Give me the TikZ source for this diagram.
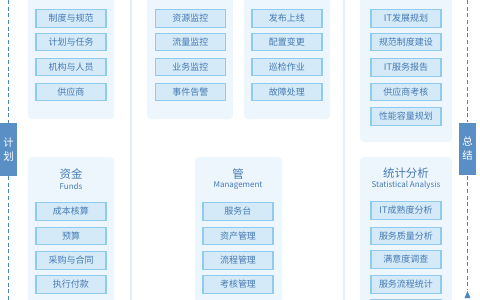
\documentclass[tikz,border=0pt]{standalone}
\usepackage{fontspec}
\setmainfont{Noto Sans CJK SC}
\definecolor{panelbg}{HTML}{EEF6FD}
\definecolor{itemfill}{HTML}{D4EAF8}
\definecolor{itemdraw}{HTML}{8FCBEF}
\definecolor{itemtext}{HTML}{4579B2}
\definecolor{barblue}{HTML}{5A8FC6}
\definecolor{dashblue}{HTML}{4C84C1}
\definecolor{sepblue}{HTML}{E2EFFB}
\begin{document}
\begin{tikzpicture}[x=0.75pt,y=-0.75pt,
  panel/.style={fill=panelbg, rounded corners=3pt, inner sep=0pt, minimum width=#1},
  item/.style={draw=itemdraw, fill=itemfill, line width=0.8pt, minimum width=52.5pt, minimum height=13pt, inner sep=0pt, text=itemtext, font=\fontsize{6.75}{8}\selectfont},
  bar/.style={fill=barblue, minimum width=12.75pt, minimum height=39.5pt, inner sep=0pt, text=white, align=center, font=\fontsize{7.8}{10.5}\selectfont},
  dashline/.style={draw=dashblue, line width=1.3pt, dash pattern=on 3pt off 2pt},
  titlezh/.style={text=itemtext, font=\fontsize{8.6}{10}\selectfont, inner sep=0pt},
  titleen/.style={text=itemtext, font=\fontsize{6}{7}\selectfont, inner sep=0pt},
  sep/.style={draw=sepblue, line width=1.2pt}]
\useasboundingbox (0,0) rectangle (480,300);
\clip (0,0) rectangle (480,300);
% separators
\coordinate (s1t) at (131,0); \coordinate (s1b) at (131,300);
\coordinate (s2t) at (344,0); \coordinate (s2b) at (344,300);
\draw[sep] (s1t) -- (s1b);
\draw[sep] (s2t) -- (s2b);
% panels
\node[panel=64.5pt, minimum height=96.75pt] (pA) at (71,54.5) {};
\node[panel=64.5pt, minimum height=96.75pt] (pB) at (190,54.5) {};
\node[panel=64.5pt, minimum height=96.75pt] (pC) at (287,54.5) {};
\node[panel=69pt, minimum height=114pt] (pD) at (406,66) {};
\node[panel=64.5pt, minimum height=114.75pt] (pE) at (71,233.5) {};
\node[panel=65.25pt, minimum height=114.75pt] (pF) at (238.5,233.5) {};
\node[panel=69pt, minimum height=114.75pt] (pG) at (406,233.5) {};
% panel A
\node[item] (a1) at (71,18.5) {制度与规范};
\node[item] (a2) at (71,42) {计划与任务};
\node[item] (a3) at (71,67) {机构与人员};
\node[item] (a4) at (71,92) {供应商};
% panel B
\node[item] (b1) at (190.5,18.5) {资源监控};
\node[item] (b2) at (190.5,42) {流量监控};
\node[item] (b3) at (190.5,67) {业务监控};
\node[item] (b4) at (190.5,92) {事件告警};
% panel C
\node[item] (c1) at (287,18.5) {发布上线};
\node[item] (c2) at (287,42) {配置变更};
\node[item] (c3) at (287,67) {巡检作业};
\node[item] (c4) at (287,92) {故障处理};
% panel D
\node[item] (d1) at (406,18.5) {IT发展规划};
\node[item] (d2) at (406,42) {规范制度建设};
\node[item] (d3) at (406,67.5) {IT服务报告};
\node[item] (d4) at (406,92) {供应商考核};
\node[item] (d5) at (406,116.5) {性能容量规划};
% panel E
\node[titlezh] (eT) at (71,174) {资金};
\node[titleen] (eS) at (71,186) {Funds};
\node[item] (e1) at (71,211.5) {成本核算};
\node[item] (e2) at (71,236) {预算};
\node[item] (e3) at (71,260.5) {采购与合同};
\node[item] (e4) at (71,284.5) {执行付款};
% panel F
\node[titlezh] (fT) at (238,174) {管};
\node[titleen] (fS) at (238,186) {Management};
\node[item] (f1) at (238,211.5) {服务台};
\node[item] (f2) at (238,236) {资产管理};
\node[item] (f3) at (238,260.5) {流程管理};
\node[item] (f4) at (238,284.5) {考核管理};
% panel G
\node[titlezh] (gT) at (406,173) {统计分析};
\node[titleen] (gS) at (406,185) {Statistical Analysis};
\node[item] (g1) at (406,210.5) {IT成熟度分析};
\node[item] (g2) at (406,236) {服务质量分析};
\node[item] (g3) at (406,259.5) {满意度调查};
\node[item] (g4) at (406,284.5) {服务流程统计};
\node[item] (g5) at (406,308) {};
% bars
\node[bar] (barL) at (8.5,149.5) {计\\划};
\node[bar] (barR) at (467.5,149) {总\\结};
\coordinate (lt) at (8.5,0);
\coordinate (lb) at (8.5,300);
\coordinate (rt) at (467.5,0);
\coordinate (rb) at (467.5,290);
\draw[dashline] (lt) -- (barL.north);
\draw[dashline] (barL.south) -- (lb);
\draw[dashline] (rt) -- (barR.north);
\draw[dashline] (barR.south) -- (rb);
\fill[dashblue] (467.5,291) -- (470.5,298) -- (464.5,298) -- cycle;
\end{tikzpicture}
\end{document}
